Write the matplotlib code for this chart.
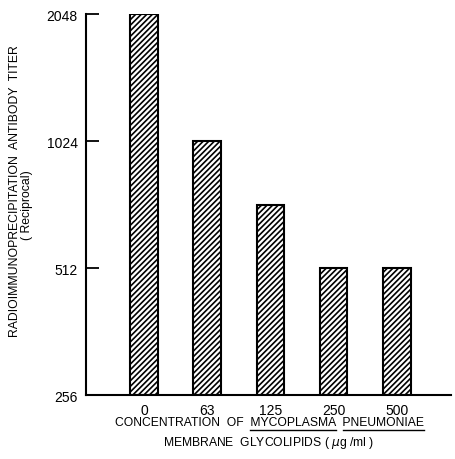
import matplotlib
matplotlib.use("Agg")
import matplotlib.pyplot as plt
from matplotlib import font_manager

# data
concentrations = ['0', '63', '125', '250', '500']
titers = [2048, 1024, 724, 512, 512]
y_ticks = [256, 512, 1024, 2048]

names = {f.name for f in font_manager.fontManager.ttflist}
fam = ['Liberation Sans Narrow', 'DejaVu Sans'] if 'Liberation Sans Narrow' in names else ['Liberation Sans', 'DejaVu Sans']
plt.rcParams['font.family'] = fam
plt.rcParams['hatch.linewidth'] = 1.2

fig = plt.figure(figsize=(4.56, 4.60), dpi=100)
ax = fig.add_axes([0.189, 0.139, 0.80, 0.828])

x = list(range(len(concentrations)))
ax.bar(x, [v - 256 for v in titers], width=0.44, bottom=256, color='white',
       edgecolor='black', linewidth=1.5, hatch='//////')

ax.set_yscale('log', base=2)
ax.set_ylim(256, 2048)
ax.set_xlim(-0.92, 4.86)
ax.set_yticks(y_ticks)
ax.set_yticklabels([str(t) for t in y_ticks])
ax.minorticks_off()
ax.set_xticks(x)
ax.set_xticklabels(concentrations)
ax.tick_params(axis='y', direction='in', length=9, width=1.3, labelsize=10, pad=6)
ax.tick_params(axis='x', length=0, labelsize=10, pad=6)
ax.spines['top'].set_visible(False)
ax.spines['right'].set_visible(False)
ax.spines['left'].set_linewidth(1.5)
ax.spines['bottom'].set_linewidth(1.5)

fig.text(0.033, 0.585, 'RADIOIMMUNOPRECIPITATION  ANTIBODY  TITER', rotation=90,
         ha='center', va='center', fontsize=8.8)
fig.text(0.060, 0.555, '( Reciprocal)', rotation=90, ha='center', va='center', fontsize=8.8)

fs = 8.7
line1 = 'CONCENTRATION  OF  MYCOPLASMA  PNEUMONIAE'
t1 = fig.text(0.59, 0.080, line1, ha='center', va='center', fontsize=fs)
fig.text(0.59, 0.038, 'MEMBRANE  GLYCOLIPIDS ( $\\mu$g /ml )', ha='center', va='center', fontsize=fs)

# underline the organism name
fig.canvas.draw()
r = fig.canvas.get_renderer()
bb = t1.get_window_extent(r)
W = fig.bbox.width
H = fig.bbox.height

def width_of(s):
    tt = fig.text(0, 0, s, fontsize=fs)
    w = tt.get_window_extent(r).width
    tt.remove()
    return w

for word in ['MYCOPLASMA', 'PNEUMONIAE']:
    i = line1.index(word)
    x0 = bb.x0 + width_of(line1[:i].replace(' ', '\u00a0'))
    x1 = bb.x0 + width_of((line1[:i] + word).replace(' ', '\u00a0'))
    yy = bb.y0 - 1.5
    fig.add_artist(plt.Line2D([x0 / W, x1 / W], [yy / H, yy / H], color='black', lw=1.0))

plt.savefig('out.png', dpi=100)
